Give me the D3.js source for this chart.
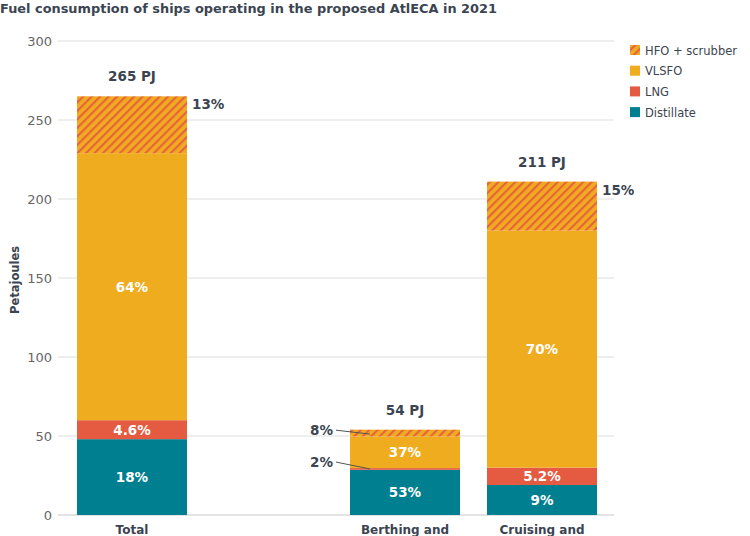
<!DOCTYPE html>
<html><head><meta charset="utf-8">
<script src="https://cdn.jsdelivr.net/npm/d3@7"></script>
<style>body{margin:0;background:#fff;} text{font-family:"DejaVu Sans",sans-serif;}</style>
</head><body>
<svg id="c" width="750" height="536"></svg>
<script>
const categories = ["Total", "Berthing and", "Cruising and"];
const fuels = ["Distillate", "LNG", "VLSFO", "HFO + scrubber"];
const distillate = [48, 28.6, 19];
const lng = [12, 1.1, 11];
const vlsfo = [169, 20, 150];
const hfo = [36, 4.3, 31];
const totals = ["265 PJ", "54 PJ", "211 PJ"];
const pctLabels = [
  ["18%", "4.6%", "64%", "13%"],
  ["53%", "2%", "37%", "8%"],
  ["9%", "5.2%", "70%", "15%"]
];
const yTicks = [0, 50, 100, 150, 200, 250, 300];
const colors = {"Distillate": "#007f91", "LNG": "#e45b41", "VLSFO": "#f0ac1f", "HFO + scrubber": "url(#hatch)"};

const svg = d3.select("#c");
const defs = svg.append("defs");
const pat = defs.append("pattern").attr("id", "hatch").attr("patternUnits", "userSpaceOnUse")
  .attr("width", 6).attr("height", 6).attr("patternTransform", "rotate(45)");
pat.append("rect").attr("width", 6).attr("height", 6).attr("fill", "#f0ac1f");
pat.append("rect").attr("x", 0).attr("width", 2.2).attr("height", 6).attr("fill", "#e7643c");

const y = d3.scaleLinear().domain([0, 300]).range([515, 41]);
const xPos = {"Total": 132, "Berthing and": 405, "Cruising and": 542};
const bw = 110;
const dark = "#3b4451";

svg.append("text").attr("x", 0).attr("y", 13).attr("font-size", 12.5).attr("font-weight", 700)
  .attr("textLength", 497).attr("lengthAdjust", "spacingAndGlyphs")
  .attr("fill", dark).text("Fuel consumption of ships operating in the proposed AtlECA in 2021");

// grid
const g = svg.append("g");
g.selectAll("line.grid").data(yTicks).join("line")
  .attr("x1", 58).attr("x2", 614).attr("y1", d => y(d)).attr("y2", d => y(d))
  .attr("stroke", d => d === 0 ? "#c8c8c8" : "#dddddd").attr("stroke-width", 1.2);
g.selectAll("text.tick").data(yTicks).join("text")
  .attr("x", 52).attr("y", d => y(d) + 4.5).attr("text-anchor", "end")
  .attr("font-size", 13).attr("fill", "#666").text(d => d);

svg.append("text").attr("transform", "translate(19,280) rotate(-90)").attr("text-anchor", "middle")
  .attr("font-size", 11.5).attr("font-weight", 700).attr("fill", dark).text("Petajoules");

const series = [distillate, lng, vlsfo, hfo];
const rows = categories.map((c, i) => {
  const r = {cat: c};
  fuels.forEach((f, j) => r[f] = series[j][i]);
  return r;
});
const stack = d3.stack().keys(fuels)(rows);

stack.forEach((layer, li) => {
  svg.append("g").selectAll("rect").data(layer).join("rect")
    .attr("x", d => xPos[d.data.cat] - bw / 2)
    .attr("width", bw)
    .attr("y", d => y(d[1]))
    .attr("height", d => y(d[0]) - y(d[1]))
    .attr("fill", colors[fuels[li]]);
});

const fs = 13.5;
// inner labels
const inner = [
  [0, 0], [0, 1], [0, 2], [1, 0], [1, 2], [2, 0], [2, 1], [2, 2]
];
inner.forEach(([ci, li]) => {
  const d = stack[li][ci];
  svg.append("text").attr("x", xPos[categories[ci]]).attr("y", (y(d[0]) + y(d[1])) / 2 + 5)
    .attr("text-anchor", "middle").attr("font-size", fs).attr("font-weight", 700).attr("fill", "#fff")
    .text(pctLabels[ci][li]);
});

// totals
categories.forEach((c, i) => {
  const top = stack[3][i][1];
  svg.append("text").attr("x", xPos[c]).attr("y", y(top) - 15).attr("text-anchor", "middle")
    .attr("font-size", fs).attr("font-weight", 700).attr("fill", dark).text(totals[i]);
});

// HFO right labels (Total, Cruising)
[0, 2].forEach(ci => {
  const top = stack[3][ci][1];
  svg.append("text").attr("x", xPos[categories[ci]] + bw / 2 + 5).attr("y", y(top) + 13)
    .attr("font-size", fs).attr("font-weight", 700).attr("fill", dark).text(pctLabels[ci][3]);
});

// Berthing leader labels
const bx = xPos["Berthing and"] - bw / 2;
const hf = stack[3][1], ln = stack[1][1];
svg.append("text").attr("x", 333).attr("y", y(hf[1]) + 5).attr("text-anchor", "end")
  .attr("font-size", fs).attr("font-weight", 700).attr("fill", dark).text(pctLabels[1][3]);
svg.append("line").attr("x1", 336).attr("y1", y(hf[1]) + 0.5).attr("x2", bx + 20).attr("y2", (y(hf[0]) + y(hf[1])) / 2 + 1)
  .attr("stroke", "#555").attr("stroke-width", 1);
svg.append("text").attr("x", 333).attr("y", y(ln[1]) - 1).attr("text-anchor", "end")
  .attr("font-size", fs).attr("font-weight", 700).attr("fill", dark).text(pctLabels[1][1]);
svg.append("line").attr("x1", 336).attr("y1", y(ln[1]) - 6).attr("x2", bx + 20).attr("y2", (y(ln[0]) + y(ln[1])) / 2)
  .attr("stroke", "#555").attr("stroke-width", 1);

// x labels
categories.forEach(c => {
  svg.append("text").attr("x", xPos[c]).attr("y", 534).attr("text-anchor", "middle")
    .attr("font-size", 12).attr("font-weight", 600).attr("fill", dark).text(c);
});

// legend
const legendOrder = ["HFO + scrubber", "VLSFO", "LNG", "Distillate"];
const lg = svg.append("g");
legendOrder.forEach((f, i) => {
  const yy = 50 + i * 20.7;
  lg.append("rect").attr("x", 630).attr("y", yy - 5).attr("width", 10).attr("height", 10).attr("fill", colors[f]);
  lg.append("text").attr("x", 645).attr("y", yy + 4.5).attr("font-size", 11.5).attr("fill", dark).text(f);
});
</script>
</body></html>
